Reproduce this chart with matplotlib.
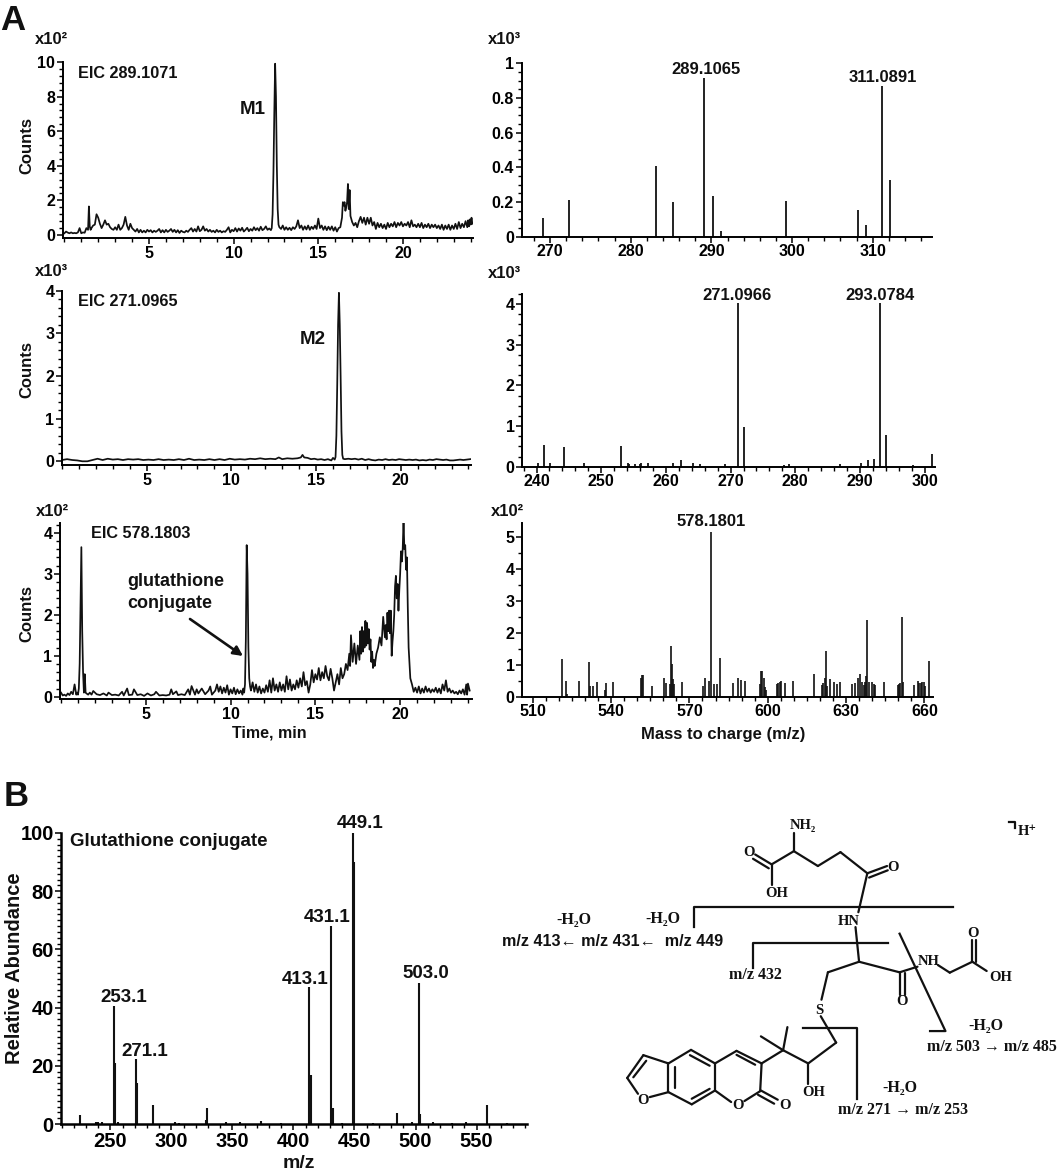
import matplotlib
matplotlib.use("Agg")
import matplotlib.pyplot as plt
from matplotlib.ticker import MultipleLocator, FixedLocator

plt.rcParams['font.family'] = ['Liberation Sans', 'DejaVu Sans']
plt.rcParams['font.weight'] = 'bold'

W, H = 1063, 1175
SERIF = ['Liberation Serif', 'DejaVu Serif']

# --- panel A, chromatograms (time in min, counts in axis units)
eic1_time = [
    0.0,0.1,0.2,0.3,0.4,0.5,0.6,0.7,0.8,0.9,
    1.0,1.1,1.2,1.3,1.4,1.45,1.5,1.55,1.6,1.7,
    1.8,1.9,2.0,2.1,2.2,2.3,2.4,2.5,2.6,2.7,
    2.8,2.9,3.0,3.1,3.2,3.3,3.4,3.5,3.6,3.7,
    3.8,3.9,4.0,4.1,4.2,4.3,4.4,4.5,4.6,4.7,
    4.8,4.9,5.0,5.1,5.2,5.3,5.4,5.5,5.6,5.7,
    5.8,5.9,6.0,6.1,6.2,6.3,6.4,6.5,6.6,6.7,
    6.8,6.9,7.0,7.1,7.2,7.3,7.4,7.5,7.6,7.7,
    7.8,7.9,8.0,8.1,8.2,8.3,8.4,8.5,8.6,8.7,
    8.8,8.9,9.0,9.1,9.2,9.3,9.4,9.5,9.6,9.7,
    9.8,9.9,10.0,10.1,10.2,10.3,10.4,10.5,10.6,10.7,
    10.8,10.9,11.0,11.1,11.2,11.3,11.4,11.5,11.6,11.7,
    11.8,11.9,12.0,12.1,12.2,12.25,12.3,12.35,12.4,12.45,
    12.5,12.55,12.6,12.65,12.7,12.8,12.9,13.0,13.1,13.2,
    13.3,13.4,13.5,13.6,13.7,13.8,13.9,14.0,14.1,14.2,
    14.3,14.4,14.5,14.6,14.7,14.8,14.9,15.0,15.1,15.2,
    15.3,15.4,15.5,15.6,15.7,15.8,15.9,16.0,16.1,16.2,
    16.3,16.4,16.45,16.5,16.55,16.6,16.65,16.7,16.75,16.8,
    16.85,16.9,17.0,17.1,17.2,17.3,17.4,17.5,17.6,17.7,
    17.8,17.9,18.0,18.1,18.2,18.3,18.4,18.5,18.6,18.7,
    18.8,18.9,19.0,19.1,19.2,19.3,19.4,19.5,19.6,19.7,
    19.8,19.9,20.0,20.1,20.2,20.3,20.4,20.5,20.6,20.7,
    20.8,20.9,21.0,21.1,21.2,21.3,21.4,21.5,21.6,21.7,
    21.8,21.9,22.0,22.1,22.2,22.3,22.4,22.5,22.6,22.7,
    22.8,22.9,23.0,23.1,23.2,23.3,23.4,23.5,23.6,23.7,
    23.8,23.85,23.9,23.95,24.0,24.05,24.1,
]
eic1_counts = [
    .10,.20,.14,.10,.15,.10,.12,.10,.15,.40,
    .10,.15,.13,.40,.30,1.65,.50,.30,.40,.55,
    .60,1.20,1.00,.65,.40,.60,.85,.60,.65,.45,
    .35,.30,.45,.30,.60,.30,.40,.60,1.05,.55,
    .30,.65,.40,.30,.20,.35,.15,.30,.15,.25,
    .15,.30,.20,.28,.15,.25,.18,.25,.35,.15,
    .28,.15,.30,.18,.25,.35,.18,.30,.15,.28,
    .12,.25,.18,.15,.25,.18,.30,.40,.20,.35,
    .20,.50,.22,.30,.50,.25,.35,.20,.30,.18,
    .25,.15,.30,.18,.25,.15,.22,.18,.30,.45,
    .15,.30,.22,.40,.20,.38,.25,.42,.20,.30,
    .42,.22,.35,.25,.45,.28,.40,.25,.48,.28,
    .35,.50,.30,.38,.28,.40,1.20,3.60,7.00,9.90,
    8.00,4.00,1.50,.60,.45,.35,.55,.30,.45,.30,
    .42,.28,.45,.35,.50,.85,.40,.55,.30,.50,
    .32,.55,.30,.48,.35,.55,.35,.95,.40,.55,
    .30,.50,.28,.48,.30,.50,.25,.45,.20,.40,
    .45,1.00,1.90,1.70,1.90,1.40,1.60,1.90,2.95,1.50,
    2.60,1.10,.75,.55,.70,.45,.80,1.05,.70,1.00,
    .60,1.00,.65,1.00,.55,.75,.35,.70,.45,.65,
    .40,.60,.35,.70,.45,.65,.50,.75,.45,.70,
    .55,.75,.50,.65,.55,.75,.45,.85,.50,.60,
    .45,.65,.45,.70,.40,.60,.45,.65,.40,.60,
    .45,.60,.40,.55,.35,.60,.30,.55,.35,.60,
    .30,.55,.35,.65,.35,.75,.40,.65,.45,.80,
    .45,.85,.50,.90,.60,1.00,.65,
]

eic2_time = [
    0.0,0.3,0.6,0.9,1.2,1.5,1.8,2.1,2.4,2.7,
    3.0,3.3,3.6,3.9,4.2,4.5,4.8,5.1,5.4,5.7,
    6.0,6.3,6.6,6.9,7.2,7.5,7.8,8.1,8.4,8.7,
    9.0,9.3,9.6,9.9,10.2,10.5,10.8,11.1,11.4,11.7,
    12.0,12.3,12.6,12.8,13.0,13.3,13.6,13.9,14.1,14.2,
    14.3,14.5,14.7,14.9,15.1,15.3,15.5,15.7,15.9,16.0,
    16.1,16.15,16.2,16.25,16.3,16.35,16.4,16.45,16.5,16.55,
    16.6,16.7,16.9,17.1,17.3,17.5,17.7,17.9,18.1,18.3,
    18.5,18.7,18.9,19.1,19.3,19.5,19.7,19.9,20.1,20.3,
    20.5,20.7,20.9,21.1,21.3,21.5,21.7,21.9,22.1,22.3,
    22.5,22.7,22.9,23.1,23.3,23.5,23.7,23.9,24.1,
]
eic2_counts = [
    .03,.05,.03,.02,.00,.00,.03,.06,.03,.06,
    .04,.05,.03,.05,.04,.05,.03,.04,.03,.05,
    .03,.04,.03,.05,.03,.06,.03,.04,.03,.05,
    .03,.05,.03,.06,.04,.05,.04,.06,.05,.07,
    .05,.06,.05,.09,.05,.07,.06,.07,.09,.15,
    .09,.08,.05,.06,.04,.05,.03,.05,.02,.08,
    .04,.10,.60,1.80,3.20,3.95,3.20,2.00,.70,.15,
    .06,.05,.06,.05,.06,.04,.06,.03,.05,.03,
    .02,.04,.03,.05,.03,.04,.03,.05,.04,.03,
    .04,.03,.04,.02,.03,.02,.04,.03,.05,.04,
    .03,.04,.02,.02,.03,.04,.03,.04,.05,
]

eic3_time = [
    0.0,0.1,0.2,0.3,0.4,0.5,0.6,0.7,0.8,0.9,
    0.95,1.0,1.05,1.1,1.15,1.2,1.25,1.3,1.35,1.4,
    1.45,1.5,1.6,1.7,1.8,1.9,2.0,2.1,2.3,2.5,
    2.7,2.8,3.0,3.2,3.4,3.6,3.7,3.9,4.0,4.2,
    4.3,4.5,4.7,4.9,5.1,5.3,5.5,5.6,5.8,6.0,
    6.2,6.4,6.5,6.6,6.8,6.9,7.1,7.3,7.5,7.6,
    7.7,7.9,8.0,8.1,8.3,8.5,8.7,8.8,8.9,9.1,
    9.2,9.3,9.4,9.5,9.6,9.7,9.8,9.9,10.0,10.1,
    10.2,10.3,10.4,10.5,10.6,10.7,10.75,10.8,10.85,10.9,
    10.95,11.0,11.05,11.1,11.15,11.2,11.3,11.4,11.5,11.6,
    11.7,11.8,11.9,12.0,12.1,12.2,12.3,12.4,12.5,12.6,
    12.7,12.8,12.9,13.0,13.1,13.2,13.3,13.4,13.5,13.6,
    13.7,13.8,13.9,14.0,14.1,14.2,14.3,14.4,14.5,14.6,
    14.7,14.8,14.9,15.0,15.1,15.2,15.3,15.4,15.5,15.6,
    15.7,15.8,15.9,16.0,16.1,16.2,16.3,16.4,16.5,16.6,
    16.7,16.8,16.9,17.0,17.05,17.1,17.2,17.3,17.4,17.5,
    17.6,17.65,17.7,17.75,17.8,17.85,17.9,17.95,18.0,18.05,
    18.1,18.15,18.2,18.25,18.3,18.35,18.4,18.45,18.5,18.6,
    18.7,18.8,18.9,19.0,19.1,19.15,19.2,19.25,19.3,19.35,
    19.4,19.45,19.5,19.55,19.6,19.65,19.7,19.75,19.8,19.85,
    19.9,19.95,20.0,20.05,20.1,20.15,20.2,20.25,20.3,20.35,
    20.4,20.45,20.5,20.6,20.7,20.8,20.9,21.0,21.1,21.2,
    21.3,21.4,21.5,21.6,21.7,21.8,21.9,22.0,22.1,22.2,
    22.3,22.4,22.5,22.6,22.7,22.8,22.9,23.0,23.1,23.2,
    23.3,23.4,23.5,23.6,23.7,23.8,23.9,23.95,24.0,24.1,
]
eic3_counts = [
    .10,.03,.05,.02,.08,.04,.12,.06,.30,.05,
    .10,.05,.20,.80,2.20,3.65,1.60,.60,.10,.55,
    .10,.08,.05,.10,.05,.14,.10,.06,.04,.08,
    .03,.10,.04,.05,.03,.12,.03,.20,.04,.05,
    .18,.04,.06,.02,.08,.03,.06,.12,.03,.04,
    .03,.05,.18,.06,.13,.04,.06,.04,.18,.05,
    .26,.05,.18,.08,.20,.06,.15,.25,.05,.15,
    .30,.12,.25,.08,.22,.10,.28,.05,.18,.08,
    .22,.06,.18,.08,.15,.05,.20,.10,.30,1.40,
    3.70,3.00,1.20,.45,.25,.15,.35,.12,.30,.10,
    .25,.08,.20,.10,.28,.12,.40,.10,.45,.15,
    .30,.12,.35,.15,.30,.12,.50,.18,.42,.15,
    .30,.18,.40,.22,.45,.25,.60,.28,.38,.10,
    .30,.65,.35,.55,.42,.70,.40,.60,.45,.75,
    .50,.40,.68,.45,.15,.35,.55,.30,.70,.45,
    .55,.80,.65,1.05,.75,1.50,.85,1.30,.80,1.25,
    .90,1.60,1.05,1.70,1.10,1.60,1.20,1.85,1.25,1.80,
    1.30,1.65,1.15,1.40,.85,1.10,.70,.90,.75,1.05,
    1.20,1.45,1.25,1.95,1.45,1.75,1.40,2.05,1.60,2.10,
    1.55,2.10,1.00,1.35,1.60,2.00,2.70,2.95,2.40,2.75,
    2.10,2.60,3.00,3.55,3.30,3.60,4.30,3.60,3.70,3.10,
    3.40,2.20,1.20,.45,.30,.12,.22,.10,.25,.08,
    .20,.10,.25,.12,.20,.10,.18,.12,.22,.10,
    .20,.08,.30,.15,.40,.12,.20,.10,.15,.08,
    .12,.06,.15,.08,.18,.05,.30,.05,.32,.15,
]

# --- panel A, spectra (m/z and heights in axis units)
ms1_mz = [269.1, 272.3, 283.1, 285.3, 289.1, 290.2, 291.2, 299.2, 308.2, 309.2, 311.1, 312.1]
ms1_int = [.105, .21, .405, .20, .915, .235, .03, .205, .155, .07, .87, .325]

ms2_mz = [240.3, 241.2, 242.1, 244.2, 247.3, 253.0, 254.1, 254.3, 255.2, 256.0, 256.1, 257.2,
          261.1, 262.3, 264.2, 265.2, 269.2, 271.1, 272.1, 278.2, 279.1, 286.9, 290.2, 291.2,
          292.2, 293.05, 294.1, 298.2, 301.1]
ms2_int = [.08, .53, .09, .48, .08, .50, .10, .07, .07, .06, .08, .08,
           .08, .16, .08, .07, .07, 4.03, .97, .05, .06, .06, .08, .16,
           .20, 4.03, .77, .03, .32]

ms3_mz = [521.1, 522.8, 523.3, 527.8, 531.6, 532.0, 533.2, 534.6, 537.6, 538.2, 540.8, 551.4, 551.9,
          552.4, 555.7, 560.2, 561.0, 562.6, 562.9, 563.3, 563.6, 564.1, 567.1, 575.1, 576.0, 577.6,
          578.2, 579.5, 580.4, 581.8, 586.6, 588.7, 589.8, 591.4, 597.1, 597.4, 597.9, 598.4, 598.9,
          599.4, 603.5, 604.0, 604.5, 605.0, 606.7, 609.6, 617.9, 620.7, 621.2, 621.8, 622.3, 622.6,
          623.9, 625.5, 626.6, 627.8, 632.2, 633.5, 634.6, 635.5, 636.0, 636.7, 637.2, 637.7, 638.1,
          638.9, 640.0, 640.5, 640.9, 644.4, 649.7, 650.2, 650.7, 651.3, 651.8, 655.9, 657.4, 657.9,
          658.5, 659.2, 659.7, 660.2, 661.9]
ms3_int = [1.18, .48, .07, .50, 1.10, .35, .35, .45, .20, .42, .47, .60, .67,
           .68, .35, .57, .42, .40, 1.60, 1.03, .55, .40, .45, .33, .60, .50,
           5.15, .40, .40, 1.20, .42, .60, .53, .50, .40, .80, .82, .60, .30,
           .20, .40, .43, .47, .48, .42, .50, .72, .37, .42, .60, 1.43, .33,
           .55, .45, .40, .47, .40, .42, .58, .70, .45, .37, .45, .65, 2.40,
           .47, .45, .40, .38, .45, .38, .40, .42, 2.50, .45, .37, .50, .42,
           .43, .45, .47, .35, 1.13]

# --- panel B, product ion spectrum
msb_mz = [225, 238, 240, 243, 253.1, 253.5, 256, 271.1, 271.5, 285, 303, 306, 328, 329,
          345, 356, 373, 390, 413.1, 414.3, 431.1, 432.4, 440, 449.1, 449.3, 465, 485,
          497, 503, 504, 514, 530, 541, 559, 575]
msb_int = [3.0, .6, .8, .6, 40.5, 21, .6, 22.5, 14, 6.5, .6, .5, 1.5, 5.5,
           .7, .7, 1.2, .5, 47, 17, 68, 5.5, .5, 100, 90, .4, 3.8,
           .7, 48.5, 3.5, .6, .4, .6, 6.5, .4]


def px_axes(left, right, top, bottom):
    return fig.add_axes([left / W, 1 - bottom / H, (right - left) / W, (bottom - top) / H])


def style_axes(ax, xlim, ylim, xmajor, xminor, ymajor, yminor, size=11.5, lw=1.4):
    ax.set_xlim(xlim)
    ax.set_ylim(ylim)
    ax.patch.set_alpha(0)
    for s in ['top', 'right']:
        ax.spines[s].set_visible(False)
    for s in ['left', 'bottom']:
        ax.spines[s].set_linewidth(lw)
    ax.xaxis.set_major_locator(FixedLocator(xmajor))
    ax.xaxis.set_minor_locator(MultipleLocator(xminor))
    ax.yaxis.set_major_locator(FixedLocator(ymajor))
    ax.yaxis.set_minor_locator(MultipleLocator(yminor))
    ax.tick_params(which='major', length=4, width=1.1, labelsize=size, pad=1.5)
    ax.tick_params(which='minor', length=3, width=1.0)


fig = plt.figure(figsize=(W / 100, H / 100), dpi=100, facecolor='white')

# chromatograms
ax = px_axes(63, 472.7, 62, 238.3)
ax.plot(eic1_time, eic1_counts, color='#111111', lw=1.25)
style_axes(ax, (-0.08, 24.12), (-0.19, 10), [5, 10, 15, 20], 1, [0, 2, 4, 6, 8, 10], 0.4)

ax = px_axes(62, 470.7, 290.7, 465)
ax.plot(eic2_time, eic2_counts, color='#111111', lw=1.25)
style_axes(ax, (0.0, 24.13), (-0.087, 4), [5, 10, 15, 20], 1, [0, 1, 2, 3, 4], 0.2)

ax = px_axes(60, 471.7, 523, 699)
ax.plot(eic3_time, eic3_counts, color='#111111', lw=1.25)
style_axes(ax, (-0.06, 24.22), (-0.056, 4.24), [5, 10, 15, 20], 1, [0, 1, 2, 3, 4], 0.2)

# spectra
ax = px_axes(521.7, 931.7, 63.3, 236.7)
ax.vlines(ms1_mz, 0, ms1_int, color='#111111', lw=1.3)
style_axes(ax, (266.5, 317.3), (0, 1), [270, 280, 290, 300, 310], 2,
           [0, .2, .4, .6, .8, 1], 0.05)
ax.set_yticklabels(['0', '0.2', '0.4', '0.6', '0.8', '1'])

ax = px_axes(522.3, 935, 294, 466.7)
ax.vlines(ms2_mz, 0, ms2_int, color='#111111', lw=1.3)
style_axes(ax, (237.8, 301.6), (0, 4.25), [240, 250, 260, 270, 280, 290, 300], 2,
           [0, 1, 2, 3, 4], 0.25)

ax = px_axes(522.3, 933.3, 523.3, 696.7)
ax.vlines(ms3_mz, 0, ms3_int, color='#111111', lw=1.2)
style_axes(ax, (506, 663.4), (0, 5.43), [510, 540, 570, 600, 630, 660], 5,
           [0, 1, 2, 3, 4, 5], 0.5)

# panel B spectrum
ax = px_axes(61.3, 526.9, 833, 1124)
ax.vlines(msb_mz, 0, msb_int, color='#111111', lw=1.5)
style_axes(ax, (209.7, 591.3), (0, 100), [250, 300, 350, 400, 450, 500, 550], 10,
           [0, 20, 40, 60, 80, 100], 2, size=14.5, lw=1.8)

# free text in figure pixels
ov = fig.add_axes([0, 0, 1, 1])
ov.set_xlim(0, W)
ov.set_ylim(H, 0)
ov.axis('off')


def label(x, y, s, size=10.5, ha='center', rotation=0):
    ov.text(x, y, s, fontsize=size, ha=ha, va='center', rotation=rotation, color='#111111')


label(13, 20, 'A', 25)
label(16, 797, 'B', 25)
for x, y, s in [(35, 39, 'x10²'), (488, 39, 'x10³'), (35, 272, 'x10³'), (488, 274, 'x10³'),
                (36, 512, 'x10²'), (491, 512, 'x10²')]:
    label(x, y, s, 12, ha='left')
label(78, 73, 'EIC 289.1071', 11.7, ha='left')
label(78, 302, 'EIC 271.0965', 11.7, ha='left')
label(91, 534, 'EIC 578.1803', 11.7, ha='left')
label(253, 109, 'M1', 13.5)
label(313, 339, 'M2', 13.5)
label(127, 582, 'glutathione', 13, ha='left')
label(127, 603, 'conjugate', 13, ha='left')
for y in [146, 369, 613]:
    label(27, y, 'Counts', 12, rotation=90)
label(269, 733, 'Time, min', 11.5)
label(723, 734, 'Mass to charge (m/z)', 12)
for x, y, s in [(706, 70, '289.1065'), (883, 78, '311.0891'), (737, 295, '271.0966'),
                (880, 295, '293.0784'), (711, 522, '578.1801')]:
    label(x, y, s, 12)
for x, y, s in [(360, 823, '449.1'), (327, 917, '431.1'), (305, 979, '413.1'),
                (426, 973, '503.0'), (124, 998, '253.1'), (145, 1051, '271.1')]:
    label(x, y, s, 13.5)
label(70, 841, 'Glutathione conjugate', 13.5, ha='left')
label(299, 1163, 'm/z', 14)
label(15, 968, 'Relative Abundance', 14.5, rotation=90)
ov.annotate('', xy=(243, 656), xytext=(190, 619),
            arrowprops=dict(arrowstyle='-|>', color='#111111', lw=1.9, mutation_scale=14,
                            shrinkA=0, shrinkB=0))

# structure, drawn in its own coordinates
st = px_axes(500, 1063, 800, 1140)
st.set_xlim(0, 1571)
st.set_ylim(1030, 0)
st.axis('off')

bonds = [
    [(820, 100), (820, 155)], [(820, 155), (758, 195)], [(758, 195), (758, 258)],
    [(758, 195), (712, 165)], [(750, 207), (706, 178)],
    [(820, 155), (887, 200)], [(887, 200), (950, 158)], [(950, 158), (1025, 222)],
    [(1025, 222), (1080, 200)], [(1030, 235), (1082, 213)], [(1025, 222), (1000, 340)],
    [(992, 385), (1002, 490)], [(1002, 490), (915, 522)], [(915, 522), (897, 605)],
    [(1002, 490), (1115, 522)], [(1115, 522), (1115, 590)], [(1130, 525), (1130, 590)],
    [(1115, 522), (1165, 505)], [(1222, 500), (1255, 523)], [(1255, 523), (1318, 490)],
    [(1318, 490), (1318, 425)], [(1328, 490), (1328, 425)], [(1318, 490), (1358, 518)],
    [(895, 655), (938, 735)], [(938, 735), (860, 798)], [(860, 798), (860, 860)],
    [(860, 798), (790, 758)], [(790, 758), (728, 716)], [(790, 758), (802, 688)],
    [(790, 758), (730, 798)], [(730, 798), (660, 760)], [(712, 802), (660, 772)],
    [(660, 760), (600, 798)], [(730, 798), (726, 882)], [(726, 882), (682, 912)],
    [(645, 915), (600, 880)], [(728, 880), (775, 908)], [(720, 893), (765, 920)],
    [(600, 798), (600, 880)], [(600, 798), (533, 757)], [(533, 757), (470, 798)],
    [(470, 798), (470, 885)], [(470, 885), (535, 922)], [(535, 922), (600, 880)],
    [(530, 773), (585, 805)], [(487, 808), (487, 872)], [(535, 905), (585, 875)],
    [(470, 798), (400, 773)], [(400, 773), (355, 842)], [(408, 790), (372, 840)],
    [(355, 842), (385, 890)], [(418, 900), (470, 885)],
]
for seg in bonds:
    st.plot([seg[0][0], seg[1][0]], [seg[0][1], seg[1][1]], color='#111111', lw=1.6,
            solid_capstyle='round')

cuts = [
    [(540, 385), (540, 323), (1265, 323)],
    [(705, 510), (705, 432), (1082, 432)],
    [(1115, 405), (1243, 700), (1200, 700)],
    [(845, 690), (997, 690), (997, 905)],
    [(1420, 68), (1437, 68), (1437, 85)],
]
for seg in cuts:
    st.plot([p[0] for p in seg], [p[1] for p in seg], color='#111111', lw=1.6)

atoms = [(845, 78, 'NH₂'), (695, 158, 'O'), (773, 282, 'OH'), (1098, 203, 'O'), (973, 368, 'HN'),
         (1195, 488, 'NH'), (1320, 405, 'O'), (1398, 537, 'OH'), (1123, 610, 'O'),
         (890, 637, 'S'), (875, 885, 'OH'), (663, 925, 'O'), (795, 925, 'O'), (400, 910, 'O'),
         (1470, 95, 'H⁺')]
for x, y, s in atoms:
    st.text(x, y, s, family=SERIF, fontsize=10.5, ha='center', va='center', color='#111111')

notes = [(205, 365, '-H₂O'), (455, 362, '-H₂O'), (713, 530, 'm/z 432'), (1357, 686, '-H₂O'),
         (1372, 748, 'm/z 503 → m/z 485'), (1117, 873, '-H₂O'), (1125, 940, 'm/z 271 → m/z 253')]
for x, y, s in notes:
    st.text(x, y, s, family=SERIF, fontsize=11.5, ha='center', va='center', color='#111111')
st.text(5, 430, 'm/z 413← m/z 431←  m/z 449', fontsize=11.6, ha='left', va='center', color='#111111')

fig.savefig('out.png', dpi=100)
